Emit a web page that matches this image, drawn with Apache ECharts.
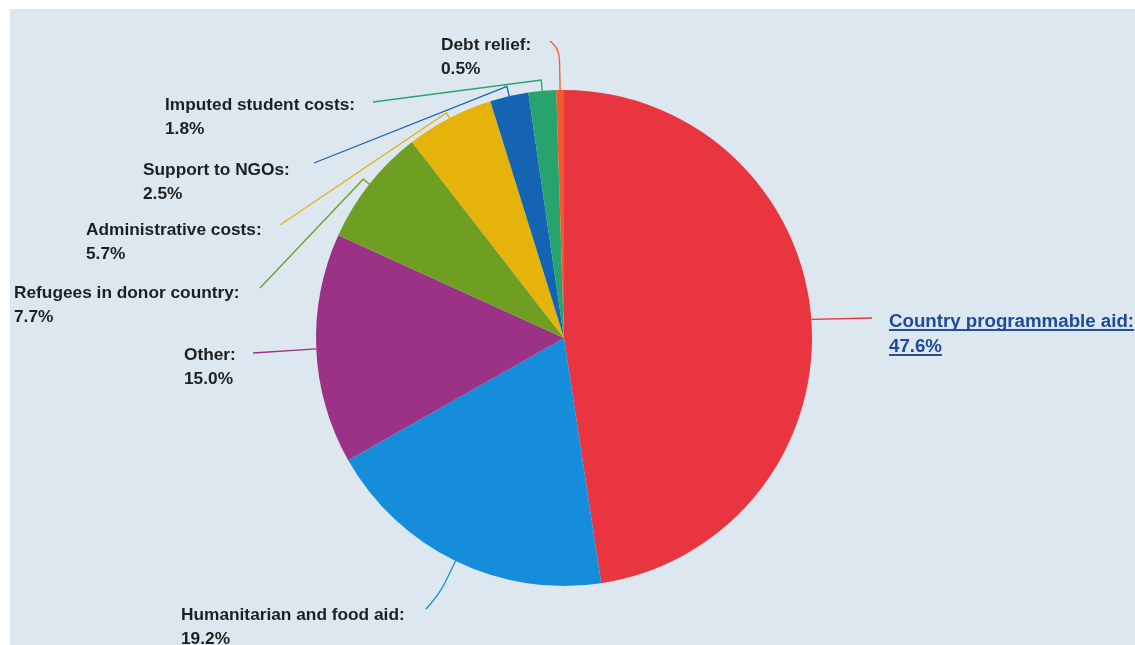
<!DOCTYPE html>
<html><head><meta charset="utf-8">
<script src="https://cdn.jsdelivr.net/npm/echarts@6/dist/echarts.min.js"></script>
<style>
html,body{margin:0;padding:0;background:#fff;}
#bg{position:absolute;left:10px;top:9px;width:1125px;height:636px;background:#dce7ef;}
#chart{position:absolute;left:0;top:0;width:1135px;height:645px;}
</style></head><body>
<div id="bg"></div><div id="chart"></div>
<script>
// ---- data ----
const categories = ['Country programmable aid','Humanitarian and food aid','Other','Refugees in donor country','Administrative costs','Support to NGOs','Imputed student costs','Debt relief'];
const shares = [47.6, 19.2, 15.0, 7.7, 5.7, 2.5, 1.8, 0.5];

// ---- styles / layout ----
const sliceColors = ['#e8353f','#168dda','#9b3286','#6f9f22','#e6b30b','#1464b3','#27a46e','#f15a2a'];
const CX = 564, CY = 338, R = 248;
const FONT = '"Liberation Sans", Arial, sans-serif';
// label block top-left, connector end, radial stub length
const labelPlace = [
  {x: 889, y: 309, ex: 872, ey: 318, stub: 0},
  {x: 181, y: 603, ex: 426, ey: 609, stub: 36, smooth: 0.4},
  {x: 184, y: 343, ex: 253, ey: 353, stub: 0},
  {x: 14,  y: 281, ex: 260, ey: 288, stub: 8},
  {x: 86,  y: 218, ex: 280, ey: 225, stub: 6},
  {x: 143, y: 158, ex: 314, ey: 163, stub: 10},
  {x: 165, y: 93,  ex: 373, ey: 102, stub: 11},
  {x: 441, y: 33,  ex: 550, ey: 41,  stub: 40, smooth: 0.4}
];

const chart = echarts.init(document.getElementById('chart'), null, {renderer: 'canvas'});

const underline = new echarts.graphic.LinearGradient(0, 0, 0, 1, [
  {offset: 0, color: 'rgba(0,0,0,0)'},
  {offset: 0.84, color: 'rgba(0,0,0,0)'},
  {offset: 0.84, color: '#2a4f96'},
  {offset: 0.91, color: '#2a4f96'},
  {offset: 0.91, color: 'rgba(0,0,0,0)'},
  {offset: 1, color: 'rgba(0,0,0,0)'}
]);

const pieData = categories.map((n, i) => ({
  name: n,
  value: shares[i],
  labelLine: labelPlace[i].smooth ? {smooth: labelPlace[i].smooth} : undefined
}));

chart.setOption({
  animation: false,
  color: sliceColors,
  series: [{
    type: 'pie',
    center: [CX, CY],
    radius: R,
    startAngle: 90,
    clockwise: true,
    avoidLabelOverlap: false,
    silent: true,
    itemStyle: {borderWidth: 0},
    data: pieData,
    label: {
      show: true,
      position: 'outside',
      color: '#1f1f1f',
      fontFamily: FONT,
      fontSize: 17.3,
      fontWeight: 'bold',
      lineHeight: 24,
      formatter: function (p) {
        const v = p.value.toFixed(1) + '%';
        if (p.dataIndex === 0) return '{u|' + p.name + ':}\n{u|' + v + '}';
        return p.name + ':\n' + v;
      },
      rich: {
        u: {
          color: '#1d4a9a',
          fontFamily: FONT,
          fontSize: 18.7,
          fontWeight: 'bold',
          lineHeight: 25,
          height: 22,
          backgroundColor: underline
        }
      }
    },
    labelLine: {
      show: true,
      length: 10,
      length2: 10,
      lineStyle: {width: 1.3}
    },
    labelLayout: function (p) {
      const L = labelPlace[p.dataIndex];
      let sx, sy;
      const pts = p.labelLinePoints;
      if (pts && pts.length) { sx = pts[0][0]; sy = pts[0][1]; }
      else {
        let cum = 0; for (let k = 0; k < p.dataIndex; k++) cum += shares[k];
        const total = shares.reduce((a, b) => a + b, 0);
        const a = (cum + shares[p.dataIndex] / 2) / total * 2 * Math.PI;
        sx = CX + R * Math.sin(a); sy = CY - R * Math.cos(a);
      }
      const dx = sx - CX, dy = sy - CY, len = Math.hypot(dx, dy) || 1;
      const ux = dx / len, uy = dy / len;
      return {
        x: L.x, y: L.y, align: 'left', verticalAlign: 'top',
        labelLinePoints: [[sx, sy], [sx + ux * L.stub, sy + uy * L.stub], [L.ex, L.ey]]
      };
    }
  }]
});
</script>
</body></html>
